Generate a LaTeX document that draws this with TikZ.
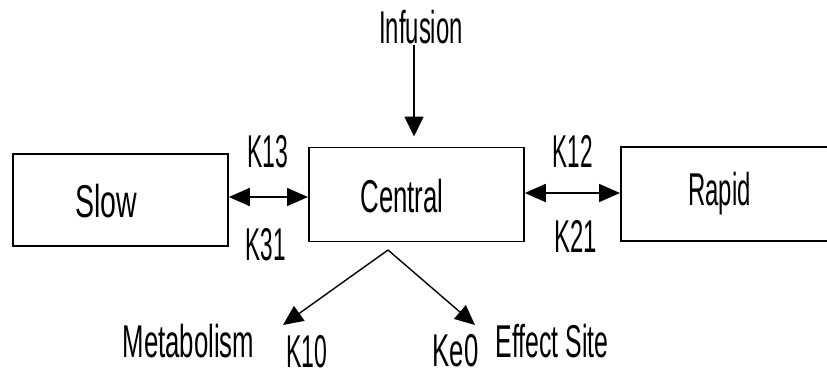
\documentclass[tikz,border=0pt]{standalone}
\usepackage{fontspec}
\setmainfont{Liberation Sans}
\usetikzlibrary{arrows.meta}
\newcommand{\lb}[2]{\scalebox{#1}[1]{#2}}
\tikzset{
  box/.style={draw, line width=1.8pt, minimum width=215pt, inner sep=0pt, anchor=north west},
  lbl/.style={inner sep=0pt, anchor=base, font=\fontsize{46}{46}\selectfont},
  conn/.style={line width=1.8pt, -{Triangle[length=20pt,width=19pt]}},
  dconn/.style={line width=1.8pt, {Triangle[length=21pt,width=18pt]}-{Triangle[length=21pt,width=18pt]}},
  diag/.style={line width=1.4pt, -{Triangle[length=20pt,width=18pt]}}
}
\begin{document}
\begin{tikzpicture}[x=1pt,y=-1pt]
\useasboundingbox[fill=white] (0,0) rectangle (827,376);
% boxes
\node[box, minimum height=92pt] (slow) at (12,153) {};
\node[box, minimum height=94pt] (central) at (308,146.5) {};
\node[box, minimum height=94pt] (rapid) at (620,146) {};
% box texts
\node[lbl] (tslow) at (106,217) {\lb{0.62}{Slow}};
\node[lbl] (tcentral) at (402,212) {\lb{0.56}{Central}};
\node[lbl] (trapid) at (719.5,205) {\lb{0.52}{Rapid}};
\node[lbl] (tinf) at (421,43) {\lb{0.52}{Infusion}};
% rate labels
\node[lbl] (k13) at (268,167) {\lb{0.5}{K13}};
\node[lbl] (k31) at (266,260) {\lb{0.49}{K31}};
\node[lbl] (k12) at (573,167) {\lb{0.49}{K12}};
\node[lbl] (k21) at (576,252) {\lb{0.52}{K21}};
\node[lbl] (k10) at (307,367) {\lb{0.5}{K10}};
\node[lbl] (ke0) at (455.5,366) {\lb{0.56}{Ke0}};
\node[lbl] (tmet) at (188.5,357) {\lb{0.56}{Metabolism}};
\node[lbl] (teff) at (552,357) {\lb{0.54}{Effect Site}};
% connector helper coordinates
\coordinate (ya) at (0,197);
\coordinate (yb) at (0,193);
\coordinate (inf) at (414,45);
\coordinate (apex) at (388,250);
\coordinate (metend) at (283,325);
\coordinate (effend) at (475,325);
% connectors
\draw[dconn] (slow.east |- ya) -- (central.west |- ya);
\draw[dconn] (central.east |- yb) -- (rapid.west |- yb);
\draw[conn, shorten >=10pt] (inf) -- (central.north -| inf);
\draw[diag] (apex) -- (metend);
\draw[diag] (apex) -- (effend);
\end{tikzpicture}
\end{document}
